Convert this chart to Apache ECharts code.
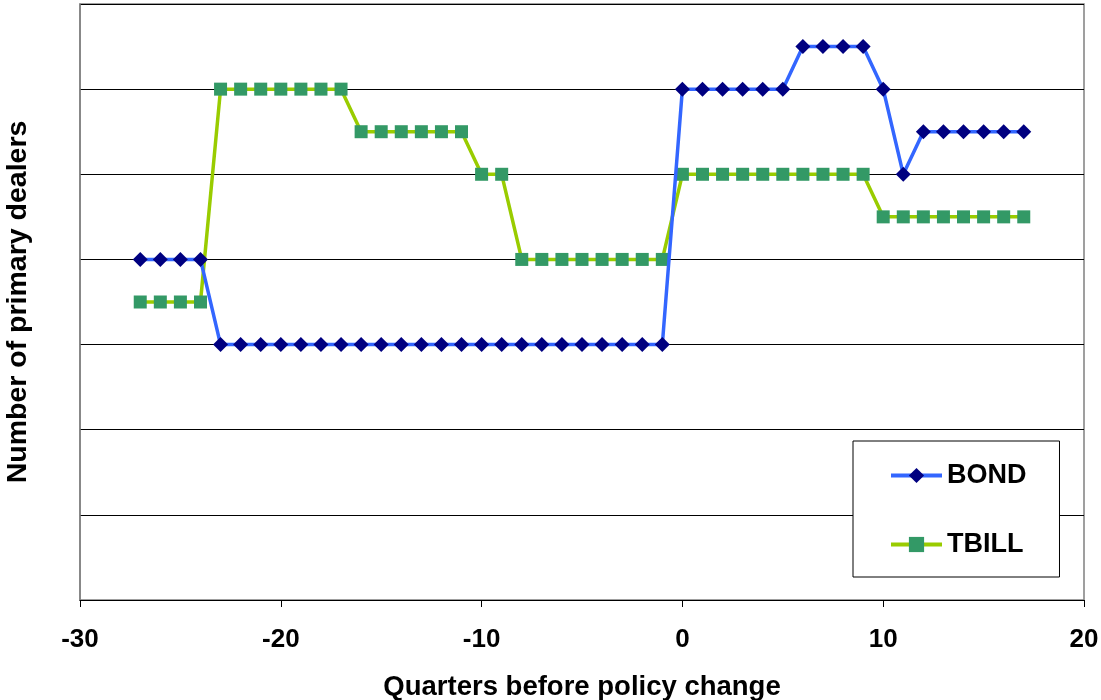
<!DOCTYPE html>
<html>
<head>
<meta charset="utf-8">
<script src="https://cdn.jsdelivr.net/npm/echarts@6/dist/echarts.min.js"></script>
<style>
  html, body { margin: 0; padding: 0; background: #fff; }
  #chart { width: 1101px; height: 700px; }
</style>
</head>
<body>
<div id="chart"></div>
<script>
// Quarters relative to the policy change
const quarters = [-27,-26,-25,-24,-23,-22,-21,-20,-19,-18,-17,-16,-15,-14,-13,-12,-11,-10,-9,-8,-7,-6,-5,-4,-3,-2,-1,0,1,2,3,4,5,6,7,8,9,10,11,12,13,14,15,16,17];

// Number of primary dealers (index levels, axis unlabeled)
const bond = [4,4,4,4,3,3,3,3,3,3,3,3,3,3,3,3,3,3,3,3,3,3,3,3,3,3,3,6,6,6,6,6,6,6.5,6.5,6.5,6.5,6,5,5.5,5.5,5.5,5.5,5.5,5.5];
const tbill = [3.5,3.5,3.5,3.5,6,6,6,6,6,6,6,5.5,5.5,5.5,5.5,5.5,5.5,5,5,4,4,4,4,4,4,4,4,5,5,5,5,5,5,5,5,5,5,4.5,4.5,4.5,4.5,4.5,4.5,4.5,4.5];

const xTicks = [-30,-20,-10,0,10,20];

const pair = (xs, ys) => xs.map((x, i) => [x, ys[i]]);

const chart = echarts.init(document.getElementById('chart'));
const font = 'Liberation Sans, Arial, sans-serif';

chart.setOption({
  animation: false,
  backgroundColor: '#ffffff',
  grid: {
    left: 80, right: 17, top: 4, bottom: 100,
    outerBoundsMode: 'none',
    containLabel: false,
    show: true, borderColor: '#808080', borderWidth: 1.5
  },
  xAxis: {
    type: 'value',
    min: xTicks[0], max: xTicks[xTicks.length - 1], interval: 10,
    name: 'Quarters before policy change',
    nameLocation: 'middle', nameGap: 73,
    nameTextStyle: { fontFamily: font, fontWeight: 'bold', fontSize: 27.5, color: '#000' },
    axisLine: { show: true, onZero: false, lineStyle: { color: '#000', width: 1 } },
    axisTick: { show: true, length: 7, inside: false, lineStyle: { color: '#000' } },
    axisLabel: { margin: 27, fontFamily: font, fontWeight: 'bold', fontSize: 26, color: '#000' },
    splitLine: { show: false }
  },
  yAxis: {
    type: 'value',
    min: 0, max: 7, interval: 1,
    name: 'Number of primary dealers',
    nameLocation: 'middle', nameGap: 47,
    nameTextStyle: { fontFamily: font, fontWeight: 'bold', fontSize: 28.5, color: '#000' },
    axisLine: { show: true, onZero: false, lineStyle: { color: '#808080', width: 1.5 } },
    axisTick: { show: false },
    axisLabel: { show: false },
    splitLine: { show: true, lineStyle: { color: '#000', width: 1 } }
  },
  legend: {
    orient: 'vertical',
    left: 853, top: 441,
    padding: [21, 33, 19, 36],
    itemGap: 42,
    itemWidth: 51, itemHeight: 19,
    backgroundColor: '#fff',
    borderColor: '#000', borderWidth: 1,
    lineStyle: { width: 4 },
    textStyle: { fontFamily: font, fontWeight: 'bold', fontSize: 27, color: '#000' },
    data: ['BOND', 'TBILL']
  },
  series: [
    {
      name: 'BOND', type: 'line',
      data: pair(quarters, bond),
      symbol: 'diamond', symbolSize: 15,
      lineStyle: { color: '#3366ff', width: 3.5 },
      itemStyle: { color: '#000080' },
      z: 3
    },
    {
      name: 'TBILL', type: 'line',
      data: pair(quarters, tbill),
      symbol: 'rect', symbolSize: 13,
      lineStyle: { color: '#99cc00', width: 3.5 },
      itemStyle: { color: '#339966' },
      z: 2
    }
  ]
});
</script>
</body>
</html>
